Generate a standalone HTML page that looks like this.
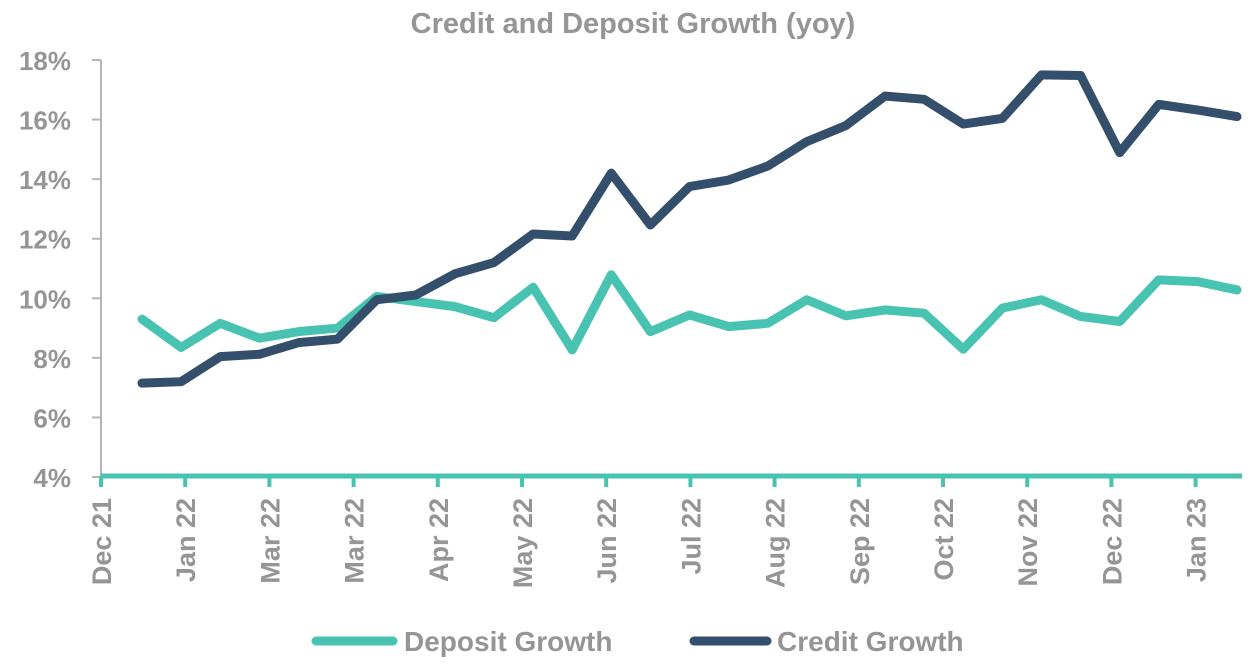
<!DOCTYPE html>
<html><head><meta charset="utf-8"><style>
body{margin:0;background:#fff;}
svg text{font-family:"Liberation Sans",sans-serif;font-weight:bold;fill:#959595;}
</style></head><body>
<svg id="chart" width="1258" height="667" xmlns="http://www.w3.org/2000/svg">
<text x="633" y="33" font-size="29" text-anchor="middle" fill="#8c8c8c">Credit and Deposit Growth (yoy)</text>
<g id="axes"></g>
<g id="series"></g>
<g>
<line x1="316" y1="641" x2="393" y2="641" stroke="#48c3b1" stroke-width="9" stroke-linecap="round"/>
<text x="404" y="651" font-size="28">Deposit Growth</text>
<line x1="694" y1="641" x2="767" y2="641" stroke="#344f6b" stroke-width="9" stroke-linecap="round"/>
<text x="777" y="651" font-size="28">Credit Growth</text>
</g>
</svg>
<script>
const xLabels=["Dec 21","Jan 22","Mar 22","Mar 22","Apr 22","May 22","Jun 22","Jul 22","Aug 22","Sep 22","Oct 22","Nov 22","Dec 22","Jan 23"];
const yTicks=[4,6,8,10,12,14,16,18];
const creditGrowth=[7.15,7.2,8.04,8.12,8.51,8.63,9.95,10.11,10.82,11.2,12.16,12.09,14.2,12.46,13.75,13.97,14.44,15.26,15.8,16.79,16.68,15.85,16.04,17.5,17.48,14.89,16.51,16.32,16.1];
const depositGrowth=[9.3,8.35,9.16,8.66,8.88,9.0,10.06,9.89,9.72,9.35,10.37,8.27,10.79,8.88,9.44,9.05,9.16,9.95,9.41,9.61,9.5,8.29,9.67,9.95,9.39,9.22,10.62,10.56,10.28];
const NS="http://www.w3.org/2000/svg";
const yScale=v=>477-(v-4)*(417/14);
const xPoint=i=>142+i*(1095/28);
const xTick=i=>101+i*84.2;
const axes=document.getElementById('axes'),series=document.getElementById('series');
function mk(tag,attrs,parent){const e=document.createElementNS(NS,tag);for(const k in attrs)e.setAttribute(k,attrs[k]);parent.appendChild(e);return e;}
let yl=mk('line',{x1:101,y1:60,x2:101,y2:477,stroke:'#b5b5b5','stroke-width':2},axes);


yTicks.forEach(v=>{
  const t=mk('line',{x1:92,y1:yScale(v),x2:101,y2:yScale(v),stroke:'#b5b5b5','stroke-width':2},axes);
  
  
  const tx=mk('text',{x:71,y:yScale(v)+10,'font-size':26,'text-anchor':'end'},axes);
  tx.textContent=v+'%';
  
  
});
xLabels.forEach((l,i)=>{
  const x=xTick(i);
  const t=mk('line',{x1:x,y1:476,x2:x,y2:487,stroke:'#48c3b1','stroke-width':4},axes);
  
  
  const tx=mk('text',{x:0,y:0,'font-size':27,'text-anchor':'end',transform:`translate(${x+10},498) rotate(-90)`},axes);
  tx.textContent=l;
  
  
});
const xl=mk('line',{x1:101,y1:476,x2:1242,y2:476,stroke:'#48c3b1','stroke-width':5},axes);


function line(data,color,name){
  const p=mk('polyline',{points:data.map((v,i)=>xPoint(i)+','+yScale(v)).join(' '),fill:'none',stroke:color,'stroke-width':9,'stroke-linejoin':'round','stroke-linecap':'round'},series);
  
  
}
line(depositGrowth,'#48c3b1','deposit-growth-line');
line(creditGrowth,'#344f6b','credit-growth-line');
</script>
</body></html>
